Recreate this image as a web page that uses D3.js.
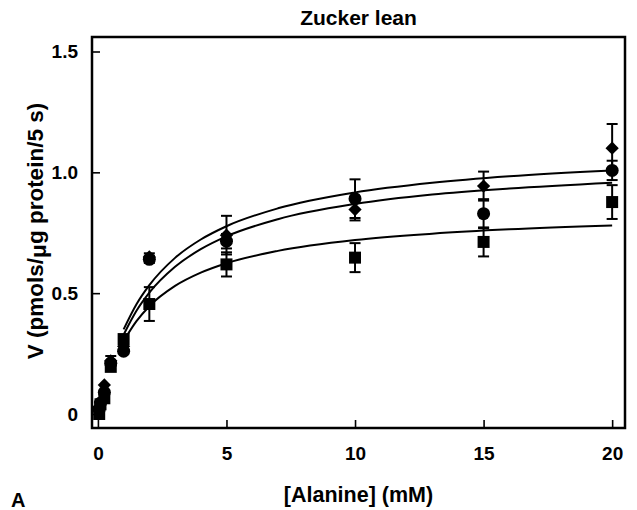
<!DOCTYPE html>
<html>
<head>
<meta charset="utf-8">
<script src="https://cdn.jsdelivr.net/npm/d3@7"></script>
<style>
  body { margin: 0; background: #fff; }
  text { font-family: "Liberation Sans", Arial, sans-serif; font-weight: bold; fill: #000; }
</style>
</head>
<body>
<script>
// alanine concentrations (mM)
var conc = [0.05, 0.1, 0.25, 0.5, 1, 2, 5, 10, 15, 20];

// uptake rate, three groups (diamond, circle, square) with SE
var diamondV = [0.03, 0.05, 0.12, 0.22, 0.28, 0.65, 0.74, 0.846, 0.943, 1.10];
var diamondErr = [0, 0, 0, 0.02, 0, 0.015, 0.08, 0.045, 0.06, 0.10];
var circleV = [0.02, 0.045, 0.09, 0.21, 0.26, 0.64, 0.715, 0.891, 0.829, 1.008];
var circleErr = [0, 0, 0, 0, 0, 0.015, 0.03, 0.08, 0.06, 0.04];
var squareV = [0.0, 0.04, 0.065, 0.195, 0.31, 0.455, 0.619, 0.647, 0.712, 0.877];
var squareErr = [0, 0, 0, 0, 0, 0.07, 0.05, 0.06, 0.06, 0.07];

// fitted curves
var curveX = [1, 1.5, 2, 3, 4, 5, 7, 10, 13, 16, 20];
var curveTop = [0.350, 0.454, 0.533, 0.646, 0.722, 0.777, 0.851, 0.917, 0.957, 0.984, 1.008];
var curveMid = [0.328, 0.427, 0.502, 0.609, 0.682, 0.735, 0.806, 0.869, 0.908, 0.933, 0.957];
var curveLow = [0.302, 0.384, 0.446, 0.530, 0.585, 0.624, 0.675, 0.720, 0.746, 0.764, 0.780];

var xTicks = [0, 5, 10, 15, 20];
var yTicks = [0, 0.5, 1.0, 1.5];

var width = 637,
    height = 510;

// plot frame edges
var frameL = 92, frameR = 625, frameT = 37, frameB = 428;

var svg = d3.select("body")
    .append("svg")
    .attr("width", width)
    .attr("height", height);

var x = d3.scaleLinear()
    .domain([-0.23, 20.5])
    .range([frameL, frameR]);

var y = d3.scaleLinear()
    .domain([-0.058, 1.56])
    .range([frameB, frameT]);

// axes, ticks pointing inward
var xAxis = svg.append("g")
    .attr("transform", "translate(0," + frameB + ")")
    .call(d3.axisBottom(x).tickValues(xTicks).tickSize(-8).tickPadding(19).tickFormat(d3.format("d")));

var yAxis = svg.append("g")
    .attr("transform", "translate(" + frameL + ",0)")
    .call(d3.axisLeft(y).tickValues(yTicks).tickSize(-8).tickPadding(14)
        .tickFormat(function(d){ return d === 0 ? "0" : d3.format(".1f")(d); }));

[xAxis, yAxis].forEach(function(g){
    g.select(".domain").remove();
    g.selectAll(".tick line").attr("stroke", "#000").attr("stroke-width", 1.6);
    g.selectAll(".tick text").style("font-size", "19px").attr("fill", "#000");
});

// frame
svg.append("rect")
    .attr("x", frameL)
    .attr("y", frameT)
    .attr("width", frameR - frameL)
    .attr("height", frameB - frameT)
    .attr("fill", "none")
    .attr("stroke", "#000")
    .attr("stroke-width", 2.5);

// curves
var line = d3.line()
    .x(function(d){ return x(d[0]); })
    .y(function(d){ return y(d[1]); })
    .curve(d3.curveMonotoneX);

[curveTop, curveMid, curveLow].forEach(function(c){
    svg.append("path")
        .datum(curveX.map(function(v, i){ return [v, c[i]]; }))
        .attr("fill", "none")
        .attr("stroke", "#000")
        .attr("stroke-width", 2)
        .attr("d", line);
});

var series = [
    {v: squareV, e: squareErr, shape: d3.symbolSquare, size: 144, rot: 0},
    {v: circleV, e: circleErr, shape: d3.symbolCircle, size: 133, rot: 0},
    {v: diamondV, e: diamondErr, shape: d3.symbolSquare, size: 88, rot: 45}
];

// error bars
series.forEach(function(s){
    var pts = conc.map(function(c, i){ return {x: c, v: s.v[i], e: s.e[i]}; })
        .filter(function(d){ return d.e > 0; });
    var g = svg.append("g").attr("stroke", "#000").attr("stroke-width", 2);
    g.selectAll(".stem").data(pts).enter().append("line")
        .attr("x1", function(d){ return x(d.x); })
        .attr("x2", function(d){ return x(d.x); })
        .attr("y1", function(d){ return y(d.v - d.e); })
        .attr("y2", function(d){ return y(d.v + d.e); });
    [-1, 1].forEach(function(sign){
        g.selectAll(".cap" + sign).data(pts).enter().append("line")
            .attr("x1", function(d){ return x(d.x) - 5.5; })
            .attr("x2", function(d){ return x(d.x) + 5.5; })
            .attr("y1", function(d){ return y(d.v + sign * d.e); })
            .attr("y2", function(d){ return y(d.v + sign * d.e); });
    });
});

// markers
series.forEach(function(s){
    svg.append("g").selectAll("path")
        .data(conc.map(function(c, i){ return [c, s.v[i]]; }))
        .enter()
        .append("path")
        .attr("d", d3.symbol().type(s.shape).size(s.size))
        .attr("transform", function(d){
            return "translate(" + x(d[0]) + "," + y(d[1]) + ") rotate(" + s.rot + ")";
        })
        .attr("fill", "#000");
});

// labels
svg.append("text")
    .attr("x", (frameL + frameR) / 2)
    .attr("y", 25)
    .attr("text-anchor", "middle")
    .style("font-size", "21px")
    .text("Zucker lean");

svg.append("text")
    .attr("x", (frameL + frameR) / 2)
    .attr("y", 502)
    .attr("text-anchor", "middle")
    .style("font-size", "21.5px")
    .text("[Alanine] (mM)");

svg.append("text")
    .attr("x", 11)
    .attr("y", 507)
    .style("font-size", "20px")
    .text("A");

var yl = svg.append("text")
    .attr("transform", "translate(43,231) rotate(-90)")
    .attr("text-anchor", "middle")
    .style("font-size", "22.5px");
yl.append("tspan").text("V (pmols/");
yl.append("tspan").attr("dy", 3).text("\u03bc");
yl.append("tspan").attr("dy", -3).text("g protein/5 s)");
</script>
</body>
</html>
